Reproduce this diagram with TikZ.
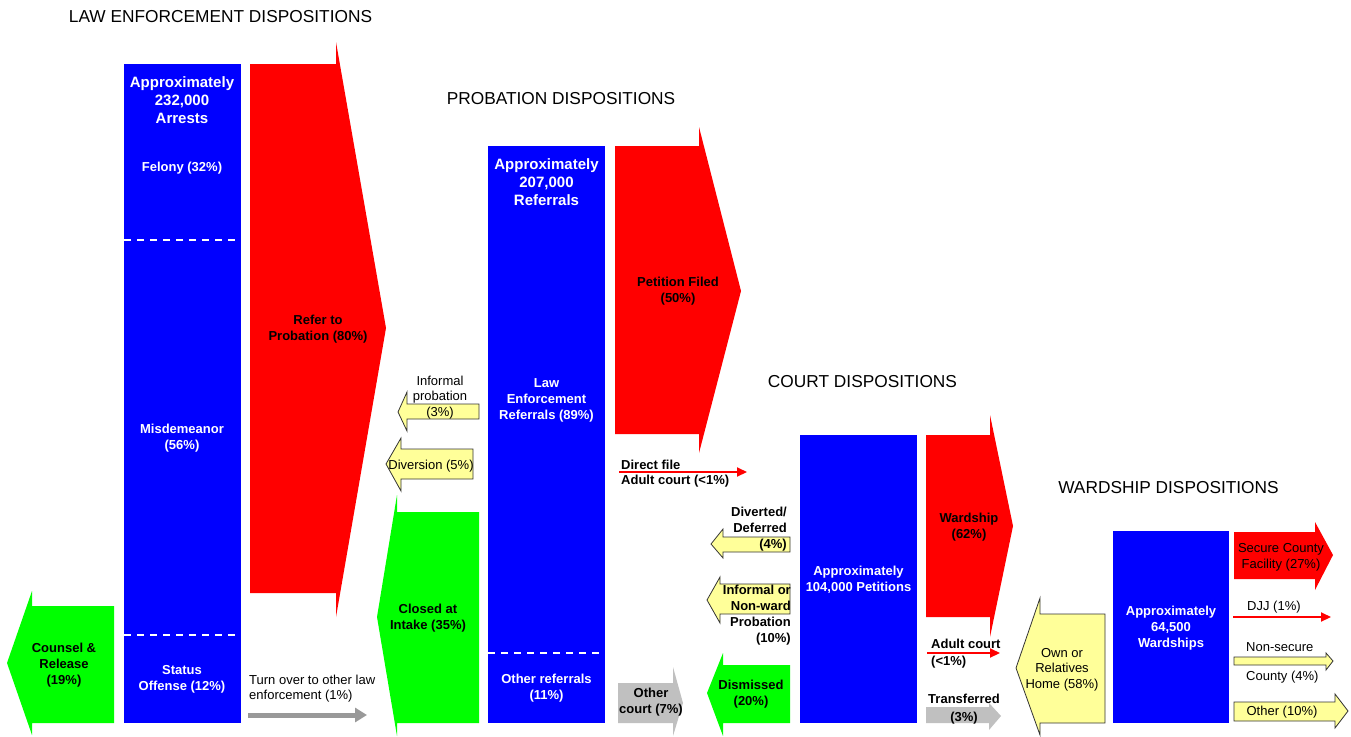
\documentclass[tikz,border=0pt]{standalone}
\usepackage{fontspec}
\setmainfont{Liberation Sans}
\usetikzlibrary{arrows.meta}
\definecolor{boxblue}{HTML}{0000FF}
\definecolor{flowred}{HTML}{FF0000}
\definecolor{flowgreen}{HTML}{00FF00}
\definecolor{flowyellow}{HTML}{FFFF99}
\definecolor{flowgray}{HTML}{C0C0C0}
\definecolor{linegray}{HTML}{999999}

\begin{document}
\begin{tikzpicture}[x=1pt,y=-1pt,
  stagebox/.style={fill=boxblue,draw=none,inner sep=0pt},
  title/.style={font=\fontsize{17.3}{20}\selectfont,inner sep=0pt,yshift=-1pt},
  bighead/.style={text=white,font=\bfseries\fontsize{15}{18}\selectfont,align=center,inner sep=0pt,yshift=-1.5pt},
  inbox/.style={text=white,font=\bfseries\fontsize{13}{16}\selectfont,align=center,inner sep=0pt,yshift=-1.5pt},
  bold/.style={font=\bfseries\fontsize{13}{16}\selectfont,align=center,inner sep=0pt,yshift=-1.5pt},
  plain/.style={font=\fontsize{13}{15.5}\selectfont,align=center,inner sep=0pt,yshift=-1.5pt},
  redflow/.style={fill=flowred,draw=none},
  greenflow/.style={fill=flowgreen,draw=none},
  yellowflow/.style={fill=flowyellow,draw=black!80,line width=0.8pt},
  grayflow/.style={fill=flowgray,draw=none},
  divider/.style={white,line width=1.3pt,dash pattern=on 7pt off 6pt},
  thinred/.style={flowred,line width=2pt,-{Triangle[length=10pt,width=9pt]}}]

\useasboundingbox (0,0) rectangle (1351,736);

\node[title] (t0) at (220.5,16) {LAW ENFORCEMENT DISPOSITIONS};
\node[title] (t1) at (561,98) {PROBATION DISPOSITIONS};
\node[title] (t2) at (862.5,381) {COURT DISPOSITIONS};
\node[title] (t3) at (1168.5,487) {WARDSHIP DISPOSITIONS};

% blue stage boxes
\node[stagebox,minimum width=117,minimum height=659] (arrests) at (182.5,393.5) {};
\node[stagebox,minimum width=117,minimum height=577] (referrals) at (546.5,434.5) {};
\node[stagebox,minimum width=117,minimum height=288] (petitions) at (858.5,579) {};
\node[stagebox,minimum width=116,minimum height=192] (wardships) at (1171,627) {};

\draw[divider] (124,240) -- (241,240);
\draw[divider] (124,635) -- (241,635);
\draw[divider] (488,653) -- (605,653);

\node[bighead] (a0) at (182,99) {Approximately\\232,000\\Arrests};
\node[inbox] (a1) at (182,167) {Felony (32\%)};
\node[inbox] (a2) at (182,437) {Misdemeanor\\(56\%)};
\node[inbox] (a3) at (182,678) {Status\\Offense (12\%)};

\node[bighead] (r0) at (546.5,181) {Approximately\\207,000\\Referrals};
\node[inbox] (r1) at (546.5,399) {Law\\Enforcement\\Referrals (89\%)};
\node[inbox] (r2) at (546.5,687) {Other referrals\\(11\%)};

\node[inbox] (p0) at (858.5,578) {Approximately\\104,000 Petitions};
\node[inbox] (w0) at (1171,627) {Approximately\\64,500\\Wardships};

% block arrows
\fill[redflow] (250,64) -- (336,64) -- (336,42) -- (386,328) -- (336,617) -- (336,593) -- (250,593) -- cycle;
\fill[redflow] (615,146) -- (699,146) -- (699,127) -- (741,291) -- (699,453) -- (699,434) -- (615,434) -- cycle;
\fill[redflow] (926,435) -- (990,435) -- (990,415) -- (1013,526) -- (990,637) -- (990,617) -- (926,617) -- cycle;
\fill[redflow] (1234,532) -- (1315,532) -- (1315,522) -- (1333,555) -- (1315,590) -- (1315,579) -- (1234,579) -- cycle;

\fill[greenflow] (114,606) -- (32,606) -- (32,591) -- (7,663) -- (32,735) -- (32,723) -- (114,723) -- cycle;
\fill[greenflow] (479,512) -- (397,512) -- (397,495) -- (377,617) -- (397,736) -- (397,723) -- (479,723) -- cycle;
\fill[greenflow] (790,665) -- (723,665) -- (723,653) -- (707,693) -- (723,736) -- (723,723) -- (790,723) -- cycle;

\filldraw[yellowflow] (479,404) -- (407,404) -- (407,392) -- (398,412) -- (407,431) -- (407,419) -- (479,419) -- cycle;
\filldraw[yellowflow] (473,449) -- (401,449) -- (401,438) -- (386,464) -- (401,491) -- (401,479) -- (473,479) -- cycle;
\filldraw[yellowflow] (790,537) -- (723,537) -- (723,529) -- (711,544) -- (723,558) -- (723,552) -- (790,552) -- cycle;
\filldraw[yellowflow] (790,584) -- (720,584) -- (720,577) -- (707,600) -- (720,623) -- (720,614) -- (790,614) -- cycle;
\filldraw[yellowflow] (1105,614) -- (1040,614) -- (1040,598) -- (1016,668) -- (1040,735) -- (1040,723) -- (1105,723) -- cycle;
\filldraw[yellowflow] (1234,657) -- (1326,657) -- (1326,653) -- (1333,661) -- (1326,670) -- (1326,665) -- (1234,665) -- cycle;
\filldraw[yellowflow] (1234,702) -- (1335,702) -- (1335,694) -- (1348,711) -- (1335,728) -- (1335,721) -- (1234,721) -- cycle;

\fill[grayflow] (618,683) -- (673,683) -- (673,667) -- (683,703) -- (673,736) -- (673,723) -- (618,723) -- cycle;
\fill[grayflow] (926,707) -- (989,707) -- (989,703) -- (1001,716) -- (989,730) -- (989,723) -- (926,723) -- cycle;

% labels on the arrows
\node[bold] (refer) at (318,328) {Refer to\\Probation (80\%)};
\node[bold] (filed) at (678,290) {Petition Filed\\(50\%)};
\node[bold] (ward) at (969,526) {Wardship\\(62\%)};
\node[plain] (secure) at (1281,556) {Secure County\\Facility (27\%)};
\node[bold] (counsel) at (64,664) {Counsel \&\\Release\\(19\%)};
\node[bold] (closed) at (428,617) {Closed at\\Intake (35\%)};
\node[bold] (dismissed) at (751,693) {Dismissed\\(20\%)};
\node[plain] (informal) at (440,396) {Informal\\probation\\(3\%)};
\node[plain] (diversion) at (431,465) {Diversion (5\%)};
\node[bold,align=right,anchor=east] (diverted) at (787,528) {Diverted/\\Deferred\\(4\%)};
\node[bold,align=right,anchor=east] (nonward) at (791,614) {Informal or\\Non-ward\\Probation\\(10\%)};
\node[plain] (home) at (1062,668) {Own or\\Relatives\\Home (58\%)};
\node[plain,anchor=west] (nonsecure) at (1246,646) {Non-secure};
\node[plain,anchor=west] (county) at (1246,676) {County (4\%)};
\node[plain] (other) at (1282,711) {Other (10\%)};
\node[bold] (ocourt) at (651,701) {Other\\court (7\%)};
\node[bold,font=\bfseries\fontsize{13}{18}\selectfont] (transf) at (964,708) {Transferred\\(3\%)};

% thin arrows
\node[plain,align=left,anchor=west] (turnover) at (249,687) {Turn over to other law\\enforcement (1\%)};
\coordinate (to0) at (248,715);
\coordinate (to1) at (367,715);
\draw[linegray,line width=5pt,-{Triangle[length=12pt,width=14pt]}] (to0) -- (to1);

\node[bold,align=left,anchor=west,font=\bfseries\fontsize{13}{15}\selectfont] (direct) at (621,472.5) {Direct file\\Adult court (<1\%)};
\coordinate (df0) at (619,472);
\coordinate (df1) at (747,472);
\draw[thinred] (df0) -- (df1);

\node[bold,align=left,anchor=west,font=\bfseries\fontsize{13}{17}\selectfont] (adult) at (931,652.5) {Adult court\\(<1\%)};
\coordinate (ac0) at (927,653);
\coordinate (ac1) at (1000,653);
\draw[thinred] (ac0) -- (ac1);

\node[plain,anchor=west] (djj) at (1247,606) {DJJ (1\%)};
\coordinate (dj0) at (1233,617);
\coordinate (dj1) at (1331,617);
\draw[thinred] (dj0) -- (dj1);

\end{tikzpicture}
\end{document}
